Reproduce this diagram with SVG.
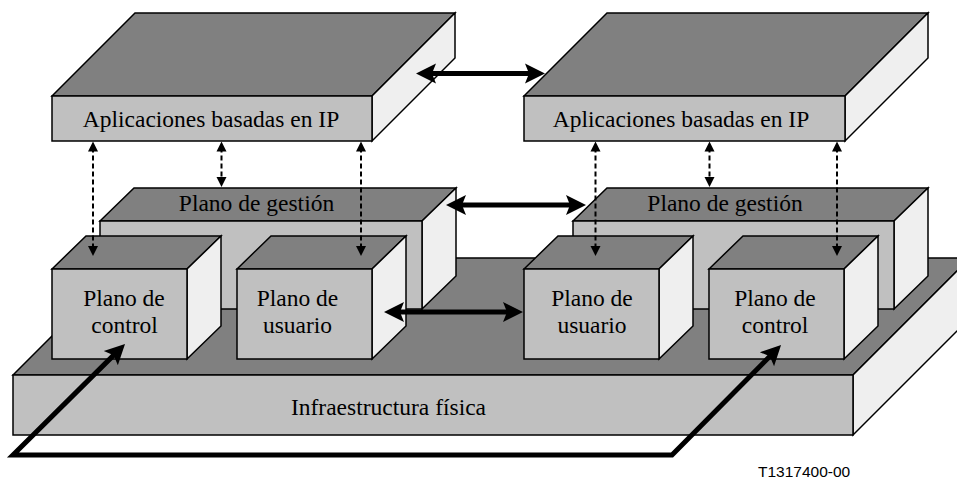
<svg xmlns="http://www.w3.org/2000/svg" width="957" height="481" viewBox="0 0 957 481">
  <style>
    .top { fill: #808080; stroke: #000; stroke-width: 1.5; stroke-linejoin: miter; }
    .front { fill: #c0c0c0; stroke: #000; stroke-width: 1.5; }
    .side { fill: #efefef; stroke: #000; stroke-width: 1.5; stroke-linejoin: miter; }
    .lbl { font-family: "Liberation Serif", "Times New Roman", serif; font-size: 23.5px; fill: #000; text-anchor: middle; }
    .thick { fill: none; stroke: #000; stroke-width: 5; stroke-linejoin: miter; }
    .dash { fill: none; stroke: #000; stroke-width: 2; stroke-dasharray: 5 3; }
    .code { font-family: "Liberation Sans", Arial, sans-serif; font-size: 15.5px; fill: #000; }
  </style>
  <defs>
    <marker id="big" markerUnits="userSpaceOnUse" viewBox="0 -11 22 22" markerWidth="22" markerHeight="22" refX="8" refY="0" orient="auto-start-reverse">
      <path d="M0,-10 L20,0 L0,10 L4,0 Z" fill="#000"/>
    </marker>
    <marker id="small" markerUnits="userSpaceOnUse" viewBox="0 -6 11 12" markerWidth="11" markerHeight="12" refX="4" refY="0" orient="auto-start-reverse">
      <path d="M0,-5 L10,0 L0,5 Z" fill="#000"/>
    </marker>
  </defs>

  <rect x="0" y="0" width="957" height="481" fill="#fff"/>

  <g id="infraestructura">
    <polygon class="top" points="13,375 130,258 970,258 853,375"/>
    <polygon class="side" points="853,375 970,258 970,318 853,435"/>
    <rect class="front" x="13" y="375" width="840" height="60"/>
    <text class="lbl" x="388.5" y="415">Infraestructura física</text>
  </g>

  <g id="gestion-izq">
    <polygon class="top" points="100,221 134,188 456,188 422,221"/>
    <polygon class="side" points="422,221 456,188 456,276 422,309"/>
    <rect class="front" x="100" y="221" width="322" height="88"/>
    <text class="lbl" x="256.5" y="211">Plano de gestión</text>
  </g>

  <g id="gestion-der">
    <polygon class="top" points="573,221 607,188 928,188 894,221"/>
    <polygon class="side" points="894,221 928,188 928,276 894,309"/>
    <rect class="front" x="573" y="221" width="321" height="88"/>
    <text class="lbl" x="725" y="211">Plano de gestión</text>
  </g>

  <g id="control-izq">
    <polygon class="top" points="52,269 86,236 221,236 187,269"/>
    <polygon class="side" points="187,269 221,236 221,326 187,359"/>
    <rect class="front" x="52" y="269" width="135" height="90"/>
    <text class="lbl" x="124" y="306">Plano de</text>
    <text class="lbl" x="124.5" y="333">control</text>
  </g>

  <g id="usuario-izq">
    <polygon class="top" points="237,269 271,236 406,236 372,269"/>
    <polygon class="side" points="372,269 406,236 406,326 372,359"/>
    <rect class="front" x="237" y="269" width="135" height="90"/>
    <text class="lbl" x="297.5" y="306">Plano de</text>
    <text class="lbl" x="297.5" y="333">usuario</text>
  </g>

  <g id="usuario-der">
    <polygon class="top" points="524,269 558,236 693,236 659,269"/>
    <polygon class="side" points="659,269 693,236 693,326 659,359"/>
    <rect class="front" x="524" y="269" width="135" height="90"/>
    <text class="lbl" x="592" y="306">Plano de</text>
    <text class="lbl" x="592" y="333">usuario</text>
  </g>

  <g id="control-der">
    <polygon class="top" points="709,269 743,236 878,236 844,269"/>
    <polygon class="side" points="844,269 878,236 878,326 844,359"/>
    <rect class="front" x="709" y="269" width="135" height="90"/>
    <text class="lbl" x="775" y="306">Plano de</text>
    <text class="lbl" x="775" y="333">control</text>
  </g>

  <g id="aplicaciones-izq">
    <polygon class="top" points="52,96 135,13 455,13 372,96"/>
    <polygon class="side" points="372,96 455,13 455,58 372,141"/>
    <rect class="front" x="52" y="96" width="320" height="45"/>
    <text class="lbl" x="211" y="127">Aplicaciones basadas en IP</text>
  </g>

  <g id="aplicaciones-der">
    <polygon class="top" points="524,96 607,13 928,13 845,96"/>
    <polygon class="side" points="845,96 928,13 928,58 845,141"/>
    <rect class="front" x="524" y="96" width="321" height="45"/>
    <text class="lbl" x="681" y="127">Aplicaciones basadas en IP</text>
  </g>

  <g id="connectors">
    <line class="thick" x1="428" y1="73.5" x2="533" y2="73.5" marker-start="url(#big)" marker-end="url(#big)"/>
    <line class="thick" x1="458" y1="205" x2="574" y2="205" marker-start="url(#big)" marker-end="url(#big)"/>
    <line class="thick" x1="396" y1="312" x2="511" y2="312" marker-start="url(#big)" marker-end="url(#big)"/>
    <path class="thick" d="M116.5,352.4 L13,455 L672,455 L772.6,353.5" marker-start="url(#big)" marker-end="url(#big)"/>

    <line class="dash" x1="93" y1="147.5" x2="93" y2="250" marker-start="url(#small)" marker-end="url(#small)"/>
    <line class="dash" x1="221.5" y1="147.5" x2="221.5" y2="181" marker-start="url(#small)" marker-end="url(#small)"/>
    <line class="dash" x1="361" y1="147.5" x2="361" y2="250" marker-start="url(#small)" marker-end="url(#small)"/>
    <line class="dash" x1="595.5" y1="147.5" x2="595.5" y2="250" marker-start="url(#small)" marker-end="url(#small)"/>
    <line class="dash" x1="709.5" y1="147.5" x2="709.5" y2="181" marker-start="url(#small)" marker-end="url(#small)"/>
    <line class="dash" x1="837" y1="147.5" x2="837" y2="250" marker-start="url(#small)" marker-end="url(#small)"/>
  </g>

  <text class="code" x="758" y="477">T1317400-00</text>
</svg>
